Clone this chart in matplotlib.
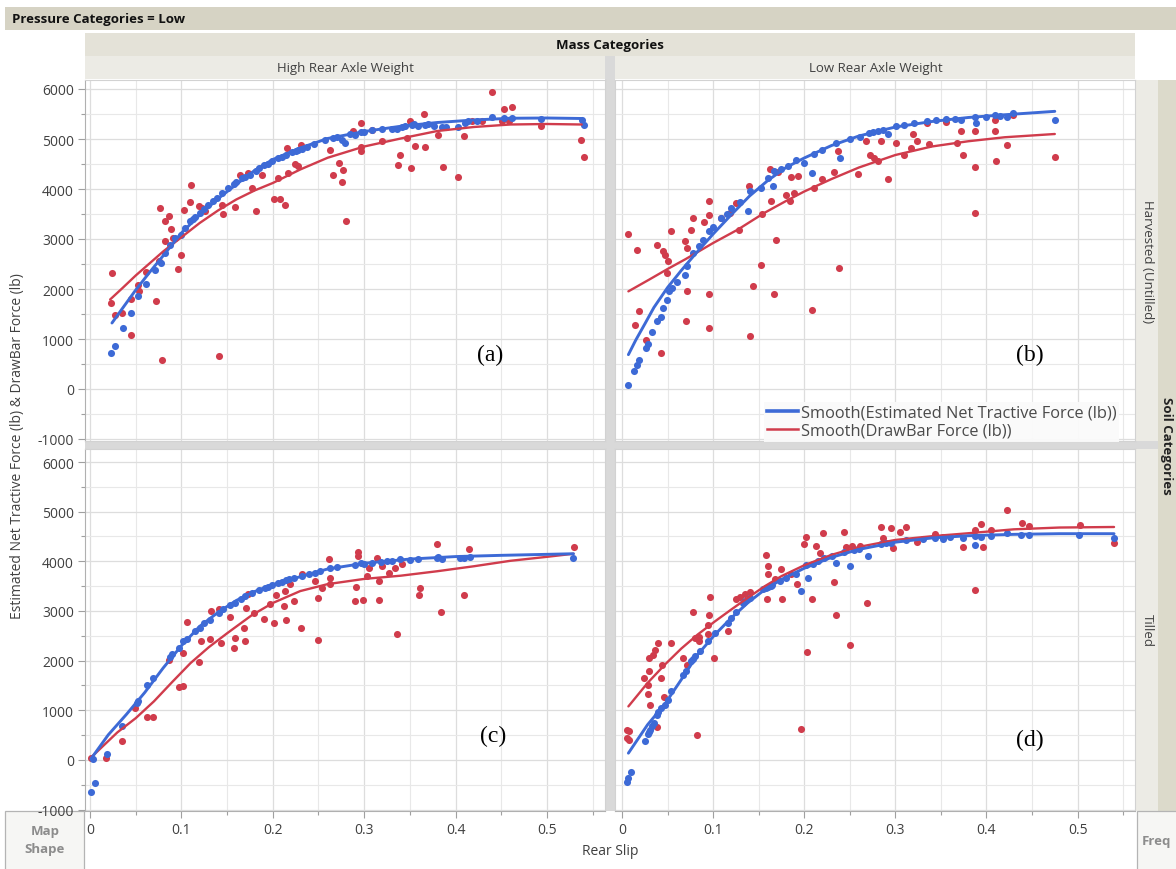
import matplotlib
matplotlib.use('Agg')
import matplotlib.pyplot as plt
from matplotlib.patches import Rectangle
from matplotlib.lines import Line2D
from matplotlib.ticker import MultipleLocator, FuncFormatter

plt.rcParams['font.family'] = ['Open Sans', 'DejaVu Sans']
plt.rcParams['axes.unicode_minus'] = False

# ---------------- data ----------------
# Panel (a): High Rear Axle Weight / Harvested (Untilled)
a_blue_x = [0.023, 0.027, 0.036, 0.045, 0.053, 0.061, 0.071, 0.078, 0.082, 0.088, 0.093, 0.099, 0.104, 0.109,
            0.113, 0.115, 0.120, 0.125, 0.129, 0.135, 0.139, 0.144, 0.151, 0.157, 0.160, 0.166, 0.170, 0.175, 0.182,
            0.185, 0.190, 0.195, 0.199, 0.206, 0.210, 0.214, 0.221, 0.225, 0.228, 0.232, 0.237, 0.245, 0.257, 0.266,
            0.270, 0.276, 0.279, 0.285, 0.290, 0.297, 0.300, 0.308, 0.319, 0.330, 0.336, 0.341, 0.345, 0.352, 0.355,
            0.359, 0.367, 0.370, 0.376, 0.385, 0.390, 0.403, 0.410, 0.414, 0.423, 0.440, 0.453, 0.462, 0.493, 0.538, 0.541]
a_blue_y = [720, 867, 1220, 1513, 1853, 2107, 2387, 2520, 2720, 2887, 3020, 3087, 3220, 3353,
            3407, 3450, 3520, 3600, 3687, 3760, 3820, 3920, 4020, 4100, 4150, 4220, 4250, 4287, 4353,
            4420, 4473, 4500, 4553, 4620, 4650, 4673, 4740, 4760, 4787, 4800, 4833, 4900, 4987, 5020,
            5050, 4987, 4920, 5100, 5087, 5140, 5150, 5187, 5207, 5200, 5207, 5233, 5260, 5287, 5300,
            5253, 5287, 5300, 5267, 5233, 5250, 5233, 5330, 5353, 5353, 5433, 5420, 5420, 5407, 5373, 5287]
a_red_x = [0.024, 0.023, 0.027, 0.035, 0.045, 0.045, 0.053, 0.054, 0.061, 0.072, 0.076, 0.079, 0.077, 0.082,
           0.086, 0.089, 0.082, 0.091, 0.096, 0.100, 0.103, 0.109, 0.111, 0.119, 0.122, 0.126, 0.141, 0.144,
           0.146, 0.159, 0.164, 0.173, 0.177, 0.182, 0.188, 0.201, 0.208, 0.213, 0.215, 0.206, 0.217, 0.224,
           0.228, 0.231, 0.263, 0.266, 0.272, 0.277, 0.276, 0.280, 0.288, 0.297, 0.297, 0.297, 0.308, 0.319,
           0.337, 0.339, 0.347, 0.350, 0.351, 0.356, 0.365, 0.367, 0.381, 0.386, 0.403, 0.409, 0.418, 0.429,
           0.440, 0.453, 0.462, 0.451, 0.458, 0.493, 0.537, 0.540]
a_red_y = [2320, 1720, 1473, 1520, 1087, 1807, 2087, 1953, 2340, 1767, 2567, 587, 3620, 3353,
           3453, 3207, 2953, 3020, 2407, 2687, 3587, 3740, 4087, 3667, 3620, 3553, 653, 3687,
           3500, 3633, 4287, 4320, 4020, 3553, 4287, 3807, 3807, 3673, 4820, 4220, 4320, 4500,
           4453, 4873, 4787, 4287, 4520, 4387, 4140, 3353, 5153, 5320, 4753, 4833, 5187, 4967,
           4487, 4673, 5020, 5367, 4420, 4853, 5500, 4833, 5073, 4440, 4240, 5053, 5353, 5353,
           5940, 5607, 5633, 5367, 5367, 5253, 4987, 4633]
a_blue_smooth_x = [0.024, 0.035, 0.05, 0.065, 0.08, 0.10, 0.12, 0.14, 0.16, 0.18, 0.20, 0.23, 0.26, 0.30,
                   0.34, 0.38, 0.42, 0.46, 0.50, 0.538]
a_blue_smooth_y = [1320, 1600, 1980, 2330, 2665, 3120, 3480, 3805, 4090, 4370, 4590, 4820, 5010, 5150,
                   5255, 5330, 5380, 5415, 5420, 5410]
a_red_smooth_x = [0.022, 0.035, 0.05, 0.065, 0.08, 0.10, 0.12, 0.14, 0.16, 0.18, 0.20, 0.23, 0.26, 0.30,
                  0.34, 0.38, 0.42, 0.46, 0.50, 0.538]
a_red_smooth_y = [1790, 2010, 2270, 2510, 2750, 3035, 3320, 3570, 3790, 3970, 4120, 4390, 4625, 4850,
                  5010, 5160, 5240, 5290, 5300, 5290]

# Panel (b): Low Rear Axle Weight / Harvested (Untilled)
b_blue_x = [0.007, 0.013, 0.016, 0.019, 0.026, 0.029, 0.033, 0.038, 0.043, 0.045, 0.049, 0.052, 0.055, 0.060,
            0.069, 0.071, 0.078, 0.085, 0.089, 0.096, 0.100, 0.109, 0.115, 0.120, 0.130, 0.138, 0.140, 0.153,
            0.160, 0.166, 0.167, 0.175, 0.182, 0.191, 0.200, 0.209, 0.211, 0.220, 0.235, 0.239, 0.250, 0.261,
            0.271, 0.275, 0.281, 0.286, 0.292, 0.301, 0.310, 0.321, 0.335, 0.345, 0.356, 0.365, 0.372, 0.387,
            0.389, 0.400, 0.409, 0.415, 0.423, 0.429, 0.475]
b_blue_y = [73, 353, 487, 587, 820, 900, 1150, 1353, 1433, 1620, 1787, 1953, 2020, 2150,
            2287, 2453, 2720, 2870, 2987, 3153, 3250, 3420, 3500, 3620, 3750, 3567, 3953, 4020,
            4220, 4053, 4353, 4400, 4453, 4587, 4520, 4320, 4700, 4787, 4920, 4620, 5000, 5033,
            5120, 5140, 5167, 5187, 5100, 5253, 5273, 5320, 5367, 5380, 5407, 5400, 5387, 5433,
            5320, 5450, 5487, 5460, 5433, 5520, 5387]
b_red_x = [0.007, 0.016, 0.019, 0.014, 0.026, 0.043, 0.038, 0.045, 0.047, 0.050, 0.049, 0.054, 0.069, 0.071,
           0.071, 0.070, 0.076, 0.078, 0.090, 0.095, 0.096, 0.095, 0.095, 0.109, 0.118, 0.125, 0.128, 0.139,
           0.140, 0.144, 0.153, 0.154, 0.162, 0.167, 0.169, 0.164, 0.171, 0.180, 0.184, 0.189, 0.186, 0.193,
           0.208, 0.211, 0.220, 0.233, 0.238, 0.237, 0.259, 0.268, 0.272, 0.277, 0.281, 0.284, 0.292, 0.301,
           0.310, 0.319, 0.317, 0.324, 0.337, 0.335, 0.356, 0.368, 0.374, 0.372, 0.387, 0.387, 0.387, 0.409,
           0.410, 0.423, 0.409, 0.429, 0.475]
b_red_y = [3100, 2773, 1567, 1287, 987, 720, 2873, 2753, 2680, 2567, 2320, 3167, 2953, 2820,
           1953, 1353, 3187, 3420, 3340, 3753, 3487, 1900, 1220, 3420, 3520, 3720, 3187, 4053,
           1053, 2053, 2487, 3500, 4407, 1900, 2987, 3767, 4340, 3873, 3767, 3920, 4240, 4253,
           1587, 4020, 4207, 4340, 2420, 4753, 4300, 4953, 4687, 4620, 4553, 4967, 4207, 4920,
           4687, 5100, 4820, 4953, 4900, 5320, 5340, 4920, 4673, 5153, 5167, 4433, 3520, 5153,
           4567, 4887, 5387, 5473, 4633]
b_blue_smooth_x = [0.007, 0.015, 0.025, 0.035, 0.05, 0.065, 0.08, 0.10, 0.12, 0.14, 0.16, 0.18, 0.20, 0.23,
                   0.26, 0.30, 0.34, 0.38, 0.42, 0.475]
b_blue_smooth_y = [687, 975, 1300, 1630, 2030, 2370, 2690, 3100, 3487, 3860, 4170, 4430, 4620, 4870,
                   5060, 5240, 5350, 5430, 5485, 5553]
b_red_smooth_x = [0.007, 0.03, 0.05, 0.07, 0.10, 0.127, 0.156, 0.18, 0.20, 0.23, 0.26, 0.30, 0.34, 0.38,
                  0.42, 0.475]
b_red_smooth_y = [1953, 2190, 2400, 2600, 2920, 3187, 3520, 3760, 3950, 4200, 4430, 4680, 4850, 4955,
                  5035, 5100]

# Panel (c): High Rear Axle Weight / Tilled
c_blue_x = [0.001, 0.005, 0.003, 0.019, 0.035, 0.051, 0.052, 0.062, 0.069, 0.087, 0.090, 0.097, 0.102, 0.106,
            0.115, 0.120, 0.125, 0.131, 0.141, 0.145, 0.153, 0.159, 0.165, 0.170, 0.177, 0.185, 0.192, 0.195,
            0.199, 0.206, 0.210, 0.214, 0.218, 0.223, 0.232, 0.240, 0.246, 0.252, 0.263, 0.270, 0.290, 0.297,
            0.300, 0.308, 0.318, 0.325, 0.330, 0.339, 0.350, 0.359, 0.380, 0.381, 0.385, 0.405, 0.409, 0.416, 0.529]
c_blue_y = [-640, -458, 20, 114, 686, 1144, 1190, 1500, 1650, 2066, 2130, 2255, 2390, 2443,
            2600, 2658, 2750, 2827, 2961, 3040, 3116, 3163, 3250, 3298, 3365, 3420, 3452, 3490,
            3520, 3567, 3590, 3614, 3640, 3668, 3701, 3740, 3769, 3802, 3870, 3890, 3924, 3971,
            3950, 3971, 3990, 4004, 4010, 4038, 4030, 4038, 4060, 4085, 4038, 4070, 4058, 4092, 4072]
c_red_x = [0.001, 0.018, 0.035, 0.049, 0.062, 0.069, 0.097, 0.102, 0.102, 0.086, 0.106, 0.119, 0.121, 0.131,
           0.132, 0.141, 0.143, 0.153, 0.157, 0.159, 0.169, 0.170, 0.171, 0.173, 0.179, 0.190, 0.197, 0.201,
           0.204, 0.212, 0.213, 0.214, 0.219, 0.223, 0.231, 0.232, 0.246, 0.249, 0.250, 0.254, 0.261, 0.263,
           0.263, 0.290, 0.291, 0.293, 0.293, 0.299, 0.303, 0.305, 0.314, 0.316, 0.316, 0.319, 0.327, 0.334,
           0.336, 0.341, 0.360, 0.361, 0.380, 0.384, 0.409, 0.415, 0.530]
c_red_y = [34, 34, 384, 1043, 855, 868, 1460, 1480, 2154, 2019, 2780, 1965, 2389, 2436,
           2995, 3029, 2356, 2874, 2255, 2456, 2658, 2403, 3062, 3351, 2961, 2847, 3143, 2759,
           3331, 3096, 3398, 2827, 3533, 3197, 2658, 3749, 3600, 3251, 2423, 3452, 4038, 3668,
           3533, 3197, 3479, 4193, 4105, 3230, 3701, 3856, 4072, 3230, 3600, 3904, 3769, 3856,
           2544, 3937, 3331, 3452, 4354, 2981, 3331, 4253, 4294]
c_blue_smooth_x = [0.001, 0.02, 0.04, 0.06, 0.08, 0.10, 0.12, 0.14, 0.16, 0.18, 0.20, 0.23, 0.26, 0.30,
                   0.35, 0.40, 0.45, 0.50, 0.529]
c_blue_smooth_y = [20, 505, 920, 1360, 1850, 2300, 2690, 2970, 3210, 3390, 3530, 3690, 3845, 3960,
                   4045, 4095, 4120, 4140, 4152]
c_red_smooth_x = [0.001, 0.03, 0.05, 0.07, 0.09, 0.11, 0.13, 0.15, 0.177, 0.20, 0.23, 0.26, 0.30, 0.34,
                  0.38, 0.42, 0.46, 0.50, 0.529]
c_red_smooth_y = [47, 555, 840, 1180, 1570, 1950, 2270, 2550, 2914, 3160, 3400, 3540, 3645, 3710,
                  3800, 3900, 4010, 4090, 4152]

# Panel (d): Low Rear Axle Weight / Tilled
d_blue_x = [0.006, 0.007, 0.010, 0.025, 0.028, 0.030, 0.031, 0.033, 0.035, 0.038, 0.040, 0.043, 0.047, 0.050,
            0.054, 0.067, 0.070, 0.076, 0.078, 0.080, 0.086, 0.094, 0.102, 0.116, 0.120, 0.125, 0.133, 0.135,
            0.141, 0.155, 0.158, 0.160, 0.164, 0.165, 0.173, 0.180, 0.191, 0.196, 0.202, 0.204, 0.210, 0.215,
            0.222, 0.230, 0.235, 0.244, 0.250, 0.255, 0.260, 0.270, 0.284, 0.290, 0.295, 0.312, 0.330, 0.343,
            0.352, 0.360, 0.374, 0.387, 0.387, 0.394, 0.405, 0.423, 0.438, 0.447, 0.502, 0.540]
d_blue_y = [-437, -370, -249, 370, 518, 560, 606, 680, 740, 909, 960, 1043, 1110, 1200,
            1380, 1716, 1800, 1985, 2030, 2086, 2187, 2389, 2557, 2759, 2850, 2981, 3163, 3200,
            3251, 3440, 3466, 3480, 3500, 3530, 3600, 3660, 3735, 3398, 3924, 3668, 3950, 4004,
            4072, 4100, 3971, 4193, 3904, 4220, 4250, 4105, 4341, 4360, 4375, 4422, 4450, 4475,
            4442, 4480, 4475, 4509, 4327, 4489, 4509, 4576, 4529, 4529, 4529, 4475]
d_red_x = [0.006, 0.008, 0.006, 0.008, 0.024, 0.028, 0.030, 0.028, 0.031, 0.030, 0.034, 0.036, 0.039, 0.043,
           0.044, 0.046, 0.038, 0.054, 0.067, 0.071, 0.078, 0.082, 0.080, 0.085, 0.085, 0.094, 0.096, 0.097,
           0.101, 0.094, 0.116, 0.125, 0.129, 0.135, 0.141, 0.158, 0.160, 0.160, 0.159, 0.168, 0.175, 0.176,
           0.186, 0.192, 0.196, 0.200, 0.202, 0.203, 0.208, 0.213, 0.217, 0.221, 0.233, 0.235, 0.244, 0.246,
           0.250, 0.252, 0.261, 0.269, 0.284, 0.286, 0.295, 0.297, 0.305, 0.312, 0.324, 0.343, 0.352, 0.374,
           0.387, 0.387, 0.394, 0.396, 0.405, 0.423, 0.439, 0.447, 0.503, 0.540]
d_red_y = [606, 586, 437, 404, 1649, 1514, 1797, 1326, 1097, 2053, 2120, 2221, 2355, 1649,
           1918, 1259, 653, 2355, 2053, 1918, 2981, 491, 2456, 2470, 2400, 2726, 2928, 3278,
           2053, 2537, 2605, 3231, 3278, 3345, 3385, 4126, 3904, 3735, 3231, 3634, 3836, 3231,
           3735, 3533, 626, 4341, 4489, 2167, 3231, 4307, 4173, 4576, 3587, 2928, 4596, 4287,
           2322, 4307, 4307, 3163, 4691, 4462, 4670, 4274, 4596, 4691, 4388, 4556, 4489, 4287,
           4623, 3412, 4758, 4287, 4623, 5041, 4778, 4711, 4731, 4375]
d_blue_smooth_x = [0.007, 0.028, 0.047, 0.065, 0.083, 0.102, 0.12, 0.138, 0.156, 0.175, 0.20, 0.23, 0.26,
                   0.30, 0.34, 0.38, 0.43, 0.48, 0.54]
d_blue_smooth_y = [135, 707, 1124, 1615, 2120, 2524, 2860, 3163, 3420, 3634, 3860, 4080, 4240,
                   4385, 4470, 4515, 4543, 4556, 4556]
d_red_smooth_x = [0.007, 0.028, 0.047, 0.065, 0.083, 0.102, 0.12, 0.138, 0.156, 0.175, 0.20, 0.23, 0.26,
                  0.30, 0.34, 0.38, 0.43, 0.48, 0.54]
d_red_smooth_y = [1077, 1548, 1918, 2241, 2524, 2790, 3030, 3264, 3490, 3701, 3920, 4130, 4290,
                  4430, 4505, 4565, 4644, 4680, 4691]

column_labels = ['High Rear Axle Weight', 'Low Rear Axle Weight']
row_labels = ['Harvested (Untilled)', 'Tilled']
panel_tags = ['(a)', '(b)', '(c)', '(d)']
legend_labels = ['Smooth(Estimated Net Tractive Force (lb))', 'Smooth(DrawBar Force (lb))']

# ---------------- styling ----------------
BLUE = '#3d6ad6'
RED = '#d03c4c'
W, H = 1176, 870

fig = plt.figure(figsize=(W / 100, H / 100), dpi=100)
fig.patch.set_facecolor('white')


def box(x0, y0, x1, y1):
    return [x0 / W, 1 - y1 / H, (x1 - x0) / W, (y1 - y0) / H]


bg = fig.add_axes([0, 0, 1, 1], zorder=0)
bg.set_xlim(0, W)
bg.set_ylim(H, 0)
bg.axis('off')


def rect(x0, y0, x1, y1, fc, ec='none', lw=0):
    bg.add_patch(Rectangle((x0, y0), x1 - x0, y1 - y0, facecolor=fc, edgecolor=ec, linewidth=lw))


rect(5, 8, 1176, 31, '#d6d3c4')
rect(85, 34, 1135, 57, '#e4e2d8')
rect(85, 57, 605, 80, '#ecebe5')
rect(615, 57, 1135, 80, '#ecebe5')
rect(605, 57, 615, 812, '#d9d9d9')
rect(85, 442, 1158, 450, '#d9d9d9')
rect(1136, 81, 1158, 442, '#ecebe5')
rect(1136, 450, 1158, 812, '#ecebe5')
rect(1158, 81, 1176, 812, '#dcdacb')
rect(5, 812, 84, 872, '#f6f6f4', ec='#b4b4b4', lw=0.9)
rect(1137, 812, 1180, 872, '#f6f6f4', ec='#b4b4b4', lw=0.9)

bg.text(12, 19.5, 'Pressure Categories = Low', fontsize=9.5, fontweight='bold', color='#111111',
        ha='left', va='center')
bg.text(610, 45.5, 'Mass Categories', fontsize=9.5, fontweight='bold', color='#111111',
        ha='center', va='center')
bg.text(345, 68.5, column_labels[0], fontsize=9.5, color='#404040', ha='center', va='center')
bg.text(876, 68.5, column_labels[1], fontsize=9.5, color='#404040', ha='center', va='center')
bg.text(1147, 262, row_labels[0], fontsize=9.5, color='#404040', ha='center', va='center', rotation=-90)
bg.text(1147, 631, row_labels[1], fontsize=9.5, color='#404040', ha='center', va='center', rotation=-90)
bg.text(1167, 446, 'Soil Categories', fontsize=9.5, fontweight='bold', color='#222222',
        ha='center', va='center', rotation=-90)
bg.text(18, 446, 'Estimated Net Tractive Force (lb) & DrawBar Force (lb)', fontsize=10, color='#404040',
        ha='center', va='center', rotation=90)
bg.text(610, 852, 'Rear Slip', fontsize=10, color='#404040', ha='center', va='center')
bg.text(45, 841, 'Map\nShape', fontsize=9.5, fontweight='bold', color='#8c8c8c', ha='center', va='center',
        linespacing=1.5)
bg.text(1142, 842, 'Freq', fontsize=9.5, fontweight='bold', color='#8c8c8c', ha='left', va='center')

xfmt = FuncFormatter(lambda v, p: '0' if abs(v) < 1e-9 else f'{v:.1f}')
yfmt = FuncFormatter(lambda v, p: f'{int(round(v))}')

panels = [
    (box(85, 81, 605, 442), (-0.0055, 0.5635), (-1040, 6180), True, False,
     a_blue_x, a_blue_y, a_red_x, a_red_y, a_blue_smooth_x, a_blue_smooth_y, a_red_smooth_x, a_red_smooth_y,
     (0.438, 700)),
    (box(615, 81, 1135, 442), (-0.0077, 0.5630), (-1040, 6180), False, False,
     b_blue_x, b_blue_y, b_red_x, b_red_y, b_blue_smooth_x, b_blue_smooth_y, b_red_smooth_x, b_red_smooth_y,
     (0.448, 700)),
    (box(85, 450, 605, 812), (-0.0055, 0.5635), (-1030, 6262), True, True,
     c_blue_x, c_blue_y, c_red_x, c_red_y, c_blue_smooth_x, c_blue_smooth_y, c_red_smooth_x, c_red_smooth_y,
     (0.441, 483)),
    (box(615, 450, 1135, 812), (-0.0077, 0.5630), (-1030, 6262), False, True,
     d_blue_x, d_blue_y, d_red_x, d_red_y, d_blue_smooth_x, d_blue_smooth_y, d_red_smooth_x, d_red_smooth_y,
     (0.448, 403)),
]

axes = []
for i, (pos, xl, yl, left_lab, bottom_lab, bx, by, rx, ry, bsx, bsy, rsx, rsy, tag) in enumerate(panels):
    ax = fig.add_axes(pos, zorder=1)
    ax.set_facecolor('white')
    ax.set_xlim(*xl)
    ax.set_ylim(*yl)
    ax.xaxis.set_major_locator(MultipleLocator(0.1))
    ax.xaxis.set_minor_locator(MultipleLocator(0.05))
    ax.yaxis.set_major_locator(MultipleLocator(1000))
    ax.yaxis.set_minor_locator(MultipleLocator(500))
    ax.xaxis.set_major_formatter(xfmt)
    ax.yaxis.set_major_formatter(yfmt)
    ax.grid(which='major', color='#dddddd', lw=0.9)
    ax.grid(which='minor', color='#e8e8e8', lw=0.8)
    ax.set_axisbelow(True)
    for s in ax.spines.values():
        s.set_color('#d2d2d2')
        s.set_linewidth(0.8)
    if left_lab:
        ax.spines['left'].set_color('#b0b0b0')
    if bottom_lab:
        ax.spines['bottom'].set_color('#b0b0b0')
    ax.tick_params(which='both', colors='#a0a0a0', labelcolor='#404040', labelsize=10, direction='out',
                   width=0.8)
    ax.tick_params(which='major', length=5, pad=3)
    ax.tick_params(which='minor', length=3)
    ax.tick_params(axis='y', which='both', left=left_lab, labelleft=left_lab)
    ax.tick_params(axis='x', which='both', bottom=bottom_lab, labelbottom=bottom_lab)

    ax.scatter(rx, ry, s=26, color=RED, linewidths=0, zorder=3)
    ax.scatter(bx, by, s=26, color=BLUE, linewidths=0, zorder=3)
    ax.plot(rsx, rsy, color=RED, lw=1.7, zorder=4, solid_capstyle='round', solid_joinstyle='round')
    ax.plot(bsx, bsy, color=BLUE, lw=2.1, zorder=5, solid_capstyle='round', solid_joinstyle='round')
    ax.text(tag[0], tag[1], panel_tags[i], family=['Liberation Serif', 'DejaVu Serif'], fontsize=17,
            color='black', ha='center', va='center', zorder=6)
    axes.append(ax)

handles = [Line2D([], [], color=BLUE, lw=2.6), Line2D([], [], color=RED, lw=1.8)]
leg = axes[1].legend(handles, legend_labels, loc='lower left', bbox_to_anchor=(0.286, -0.002),
                     frameon=True, fontsize=11.8, handlelength=1.9, handletextpad=0.15, labelspacing=0.1,
                     borderpad=0.2, borderaxespad=0, fancybox=False)
leg.get_frame().set_facecolor('#fafafa')
leg.get_frame().set_edgecolor('none')
leg.get_frame().set_alpha(0.95)
for t in leg.get_texts():
    t.set_color('#4a4a4a')
leg.set_zorder(10)

fig.savefig('out.png', dpi=100, facecolor='white')
